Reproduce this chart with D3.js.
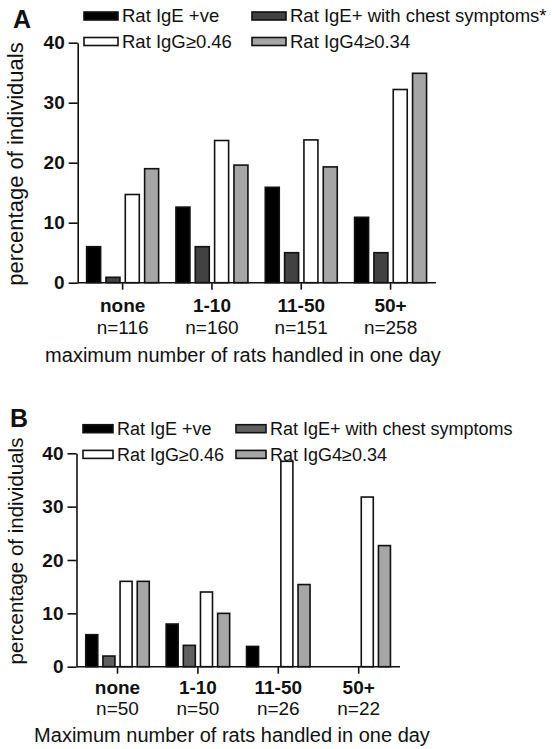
<!DOCTYPE html>
<html>
<head>
<meta charset="utf-8">
<script src="https://cdn.jsdelivr.net/npm/d3@7"></script>
<style>
  body { margin: 0; background: #fff; }
  svg { font-family: "Liberation Sans", Arial, sans-serif; }
</style>
</head>
<body>
<svg id="chart" width="552" height="749"></svg>
<script>
// categories + sample sizes
var categories = ["none", "1-10", "11-50", "50+"];
var nA = ["n=116", "n=160", "n=151", "n=258"];
var nB = ["n=50", "n=50", "n=26", "n=22"];
var yTicks = [0, 10, 20, 30, 40];

var seriesA = ["Rat IgE +ve", "Rat IgE+ with chest symptoms*", "Rat IgG\u22650.46", "Rat IgG4\u22650.34"];
var seriesB = ["Rat IgE +ve", "Rat IgE+ with chest symptoms", "Rat IgG\u22650.46", "Rat IgG4\u22650.34"];

// panel A values (% of individuals)
var aIgE      = [6.0, 12.6, 15.9, 10.9];
var aIgEChest = [0.9, 6.0, 5.0, 5.0];
var aIgG      = [14.7, 23.7, 23.8, 32.2];
var aIgG4     = [19.0, 19.6, 19.3, 34.9];

// panel B values
var bIgE      = [6.0, 8.0, 3.8, 0];
var bIgEChest = [2.0, 4.0, 0, 0];
var bIgG      = [16.0, 14.0, 38.5, 31.8];
var bIgG4     = [16.0, 10.0, 15.4, 22.7];

var svg = d3.select("#chart");

function dibuja_panel(p) {
  var g = svg.append("g");
  var values = p.series;

  var x = d3.scaleBand()
    .domain(categories)
    .range([p.left, p.right])
    .paddingInner(p.padInner)
    .paddingOuter(p.padOuter);

  var xi = d3.scaleBand()
    .domain(d3.range(values.length))
    .range([0, x.bandwidth()])
    .paddingInner(p.barPad);

  var y = d3.scaleLinear()
    .domain([0, 40])
    .range([p.bottom, p.top]);

  //**** bars ****
  values.forEach(function(serie, s) {
    g.selectAll(".bar" + s)
      .data(serie)
      .enter()
      .filter(function(d){ return d > 0; })  // zero values draw nothing
      .append("rect")
      .attr("x", function(d, i) { return x(categories[i]) + xi(s); })
      .attr("y", function(d) { return y(d); })
      .attr("width", xi.bandwidth())
      .attr("height", function(d) { return y(0) - y(d); })
      .attr("fill", p.colors[s])
      .attr("stroke", "#111")
      .attr("stroke-width", 1.6);
  });

  //**** y axis ****
  var yAxis = d3.axisLeft(y)
    .tickValues(yTicks)
    .tickSize(9)
    .tickSizeOuter(0)
    .tickPadding(4);
  var ya = g.append("g")
    .attr("transform", "translate(" + p.left + ",0)")
    .call(yAxis);
  ya.selectAll("text")
    .attr("font-size", 19)
    .attr("font-weight", "bold")
    .attr("fill", "#111")
    .attr("font-family", "Liberation Sans, Arial, sans-serif");
  ya.selectAll("line, path").attr("stroke", "#111").attr("stroke-width", 1.6);

  //**** x axis ****
  var xAxis = d3.axisBottom(x)
    .tickSize(7)
    .tickSizeOuter(0)
    .tickFormat("");
  var xa = g.append("g")
    .attr("transform", "translate(0," + p.bottom + ")")
    .call(xAxis);
  xa.select("path").attr("d", "M" + p.left + ",0H" + p.axisEnd);
  xa.selectAll("line, path").attr("stroke", "#111").attr("stroke-width", 1.6);

  g.selectAll(".cat")
    .data(categories)
    .enter()
    .append("text")
    .attr("x", function(d) { return x(d) + x.bandwidth() / 2; })
    .attr("y", p.catY)
    .attr("text-anchor", "middle")
    .attr("font-size", 19)
    .attr("font-weight", "bold")
    .attr("fill", "#111")
    .text(function(d) { return d; });

  g.selectAll(".nn")
    .data(p.n)
    .enter()
    .append("text")
    .attr("x", function(d, i) { return x(categories[i]) + x.bandwidth() / 2; })
    .attr("y", p.nY)
    .attr("text-anchor", "middle")
    .attr("font-size", 19)
    .attr("fill", "#111")
    .text(function(d) { return d; });

  g.append("text")
    .attr("x", p.titleX)
    .attr("y", p.titleY)
    .attr("text-anchor", "middle")
    .attr("font-size", 20)
    .attr("fill", "#111")
    .text(p.title);

  g.append("text")
    .attr("transform", "translate(" + p.ylabX + "," + p.ylabY + ") rotate(-90)")
    .attr("text-anchor", "middle")
    .attr("font-size", p.ylabFont)
    .attr("fill", "#111")
    .text("percentage of individuals");

  // panel letter
  g.append("text")
    .attr("x", p.letterX)
    .attr("y", p.letterY)
    .attr("font-size", 25)
    .attr("font-weight", "bold")
    .attr("fill", "#111")
    .text(p.letter);

  //**** legend ****
  var leg = g.selectAll(".leg")
    .data(p.names)
    .enter()
    .append("g")
    .attr("transform", function(d, i) {
      return "translate(" + p.legX[i % 2] + "," + p.legY[Math.floor(i / 2)] + ")";
    });
  leg.append("rect")
    .attr("x", 0)
    .attr("y", -4)
    .attr("width", p.swW)
    .attr("height", 8)
    .attr("fill", function(d, i) { return p.colors[i]; })
    .attr("stroke", "#111")
    .attr("stroke-width", 1.6);
  leg.append("text")
    .attr("x", p.swW + 4)
    .attr("y", 0)
    .attr("dy", "0.35em")
    .attr("font-size", p.legFont)
    .attr("fill", "#111")
    .text(function(d) { return d; });
}

dibuja_panel({
  series: [aIgE, aIgEChest, aIgG, aIgG4],
  names: seriesA,
  n: nA,
  colors: ["#000000", "#424242", "#ffffff", "#a6a6a6"],
  left: 77.7, right: 435.5, axisEnd: 436,
  padInner: 0.194, padOuter: 0.1, barPad: 0.276,
  top: 42.7, bottom: 282.7,
  catY: 312, nY: 334,
  title: "maximum number of rats handled in one day", titleX: 243, titleY: 362,
  ylabX: 23, ylabY: 164, ylabFont: 22,
  letter: "A", letterX: 13, letterY: 28,
  legX: [84, 252], legY: [16, 41.5], swW: 34, legFont: 18.5
});

dibuja_panel({
  series: [bIgE, bIgEChest, bIgG, bIgG4],
  names: seriesB,
  n: nB,
  colors: ["#000000", "#606060", "#ffffff", "#a6a6a6"],
  left: 76.5, right: 399.7, axisEnd: 400,
  padInner: 0.21, padOuter: 0.115, barPad: 0.30,
  top: 453.3, bottom: 666.7,
  catY: 694, nY: 715,
  title: "Maximum number of rats handled in one day", titleX: 232, titleY: 742,
  ylabX: 23, ylabY: 551, ylabFont: 20.5,
  letter: "B", letterX: 10, letterY: 427,
  legX: [83, 236], legY: [428.7, 454.4], swW: 30, legFont: 18
});
</script>
</body>
</html>
